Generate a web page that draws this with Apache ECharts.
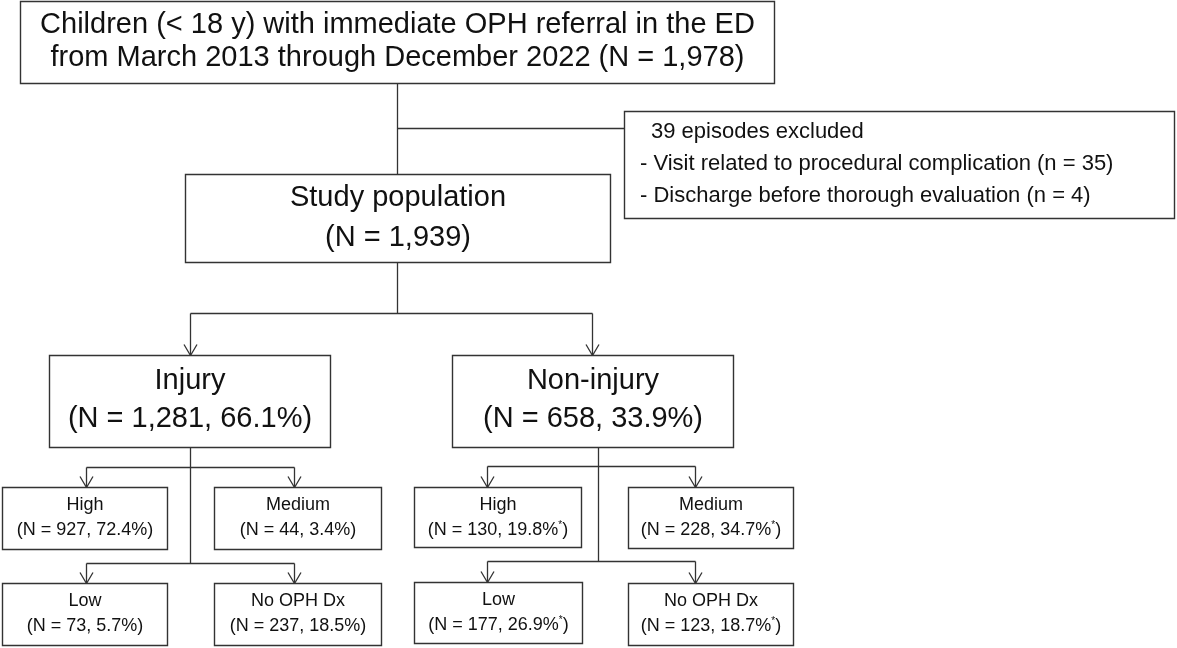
<!DOCTYPE html>
<html><head><meta charset="utf-8">
<script src="https://cdn.jsdelivr.net/npm/echarts@6/dist/echarts.min.js"></script>
<style>html,body{margin:0;padding:0;background:#fff}#c{width:1177px;height:648px}</style>
</head><body><div id="c"></div>
<script>
// ---------------- data ----------------
const sourceLines = ['Children (< 18 y) with immediate OPH referral in the ED', 'from March 2013 through December 2022'];
const totalN = 1978;
const excludedN = 39;
const exclusionReasons = ['Visit related to procedural complication', 'Discharge before thorough evaluation'];
const exclusionCounts = [35, 4];
const studyLabel = 'Study population';
const studyN = 1939;
const groupNames = ['Injury', 'Non-injury'];
const groupN = [1281, 658];
const groupPct = [66.1, 33.9];
const levelNames = ['High', 'Medium', 'Low', 'No OPH Dx'];
const injuryN = [927, 44, 73, 237];
const injuryPct = [72.4, 3.4, 5.7, 18.5];
const nonInjuryN = [130, 228, 177, 123];
const nonInjuryPct = [19.8, 34.7, 26.9, 18.7];
const groupStar = [false, true];

// ---------------- layout (positions / sizes) ----------------
const W = 1177, H = 648;
const L_TOP = [20, 1, 774, 83];
const L_EXCL = [624, 111, 1174, 218];
const L_STUDY = [185, 174, 610, 262];
const L_GROUPS = [[49, 355, 330, 447], [452, 355, 733, 447]];
const L_LEVELS = [
  [[2, 487, 167, 549], [214, 487, 381, 549], [2, 583, 167, 645], [214, 583, 381, 645]],
  [[414, 487, 581, 547], [628, 487, 793, 548], [414, 582, 582, 643], [628, 583, 793, 645]]
];
const CONNECTORS = [
  {pts: [[397, 83], [397, 174]]},
  {pts: [[397, 128], [624, 128]]},
  {pts: [[397, 262], [397, 313]]},
  {pts: [[190, 313], [592, 313]]},
  {pts: [[190, 313], [190, 355]], arrow: true},
  {pts: [[592, 313], [592, 355]], arrow: true},
  {pts: [[190, 447], [190, 563]]},
  {pts: [[86, 467], [294, 467]]},
  {pts: [[86, 467], [86, 487]], arrow: true},
  {pts: [[294, 467], [294, 487]], arrow: true},
  {pts: [[86, 563], [294, 563]]},
  {pts: [[86, 563], [86, 583]], arrow: true},
  {pts: [[294, 563], [294, 583]], arrow: true},
  {pts: [[598, 447], [598, 561]]},
  {pts: [[487, 466], [695, 466]]},
  {pts: [[487, 466], [487, 487]], arrow: true},
  {pts: [[695, 466], [695, 487]], arrow: true},
  {pts: [[487, 561], [695, 561]]},
  {pts: [[487, 561], [487, 582]], arrow: true},
  {pts: [[695, 561], [695, 583]], arrow: true}
];

const fmt = n => n.toLocaleString('en-US');
const FONT = 'Arial, "Liberation Sans", sans-serif';
const INK = '#111';
const EDGE = '#333';

// build nodes from data + layout
const nodes = [];
nodes.push({rect: L_TOP, lines: [
  {t: sourceLines[0], dy: 24, size: 29},
  {t: sourceLines[1] + ' (N = ' + fmt(totalN) + ')', dy: 57, size: 29}
]});
nodes.push({rect: L_EXCL, lines: [
  {t: excludedN + ' episodes excluded', dy: 21, size: 22, x: 651},
  {t: '- ' + exclusionReasons[0] + ' (n = ' + exclusionCounts[0] + ')', dy: 53, size: 22, x: 640},
  {t: '- ' + exclusionReasons[1] + ' (n = ' + exclusionCounts[1] + ')', dy: 85, size: 22, x: 640}
]});
nodes.push({rect: L_STUDY, lines: [
  {t: studyLabel, dy: 24, size: 29},
  {t: '(N = ' + fmt(studyN) + ')', dy: 64, size: 29}
]});
groupNames.forEach((g, gi) => {
  nodes.push({rect: L_GROUPS[gi], lines: [
    {t: g, dy: 26, size: 29},
    {t: '(N = ' + fmt(groupN[gi]) + ', ' + groupPct[gi].toFixed(1) + '%)', dy: 64, size: 29}
  ]});
  const ns = gi === 0 ? injuryN : nonInjuryN;
  const ps = gi === 0 ? injuryPct : nonInjuryPct;
  levelNames.forEach((lv, li) => {
    nodes.push({rect: L_LEVELS[gi][li], lines: [
      {t: lv, dy: 18, size: 18},
      {t: '(N = ' + fmt(ns[li]) + ', ' + ps[li].toFixed(1) + '%' + (groupStar[gi] ? '{s|*}' : '') + ')', dy: 43, size: 18, rich: groupStar[gi]}
    ]});
  });
});

const chart = echarts.init(document.getElementById('c'), null, {renderer: 'canvas'});
chart.setOption({
  backgroundColor: '#fff',
  animation: false,
  grid: {left: 0, right: 0, top: 0, bottom: 0},
  xAxis: {type: 'value', min: 0, max: W, show: false},
  yAxis: {type: 'value', min: 0, max: H, inverse: true, show: false},
  series: [
    {
      type: 'custom',
      coordinateSystem: 'cartesian2d',
      silent: true,
      data: CONNECTORS.map((c, i) => [c.pts[0][0], c.pts[0][1], i]),
      renderItem: function (params, api) {
        const c = CONNECTORS[params.dataIndex];
        const pts = c.pts.map(p => { const q = api.coord(p); return [Math.round(q[0]) + 0.5, Math.round(q[1]) + 0.5]; });
        const children = [{
          type: 'polyline', shape: {points: pts},
          style: {stroke: EDGE, lineWidth: 1.3, fill: null}
        }];
        if (c.arrow) {
          const e = pts[pts.length - 1];
          children.push({
            type: 'polyline', shape: {points: [[e[0] - 6.5, e[1] - 11], [e[0], e[1]], [e[0] + 6.5, e[1] - 11]]},
            style: {stroke: EDGE, lineWidth: 1.3, fill: null}
          });
        }
        return {type: 'group', children: children};
      }
    },
    {
      type: 'custom',
      coordinateSystem: 'cartesian2d',
      silent: true,
      z: 3,
      data: nodes.map((n, i) => [n.rect[0], n.rect[1], i]),
      renderItem: function (params, api) {
        const n = nodes[params.dataIndex];
        const p0 = api.coord([n.rect[0], n.rect[1]]);
        const p1 = api.coord([n.rect[2], n.rect[3]]);
        const x0 = Math.round(p0[0]) + 0.5, y0 = Math.round(p0[1]) + 0.5;
        const x1 = Math.round(p1[0]) + 0.5, y1 = Math.round(p1[1]) + 0.5;
        const children = [{
          type: 'rect', shape: {x: x0, y: y0, width: x1 - x0, height: y1 - y0},
          style: {fill: '#fff', stroke: EDGE, lineWidth: 1.4}
        }];
        n.lines.forEach(l => {
          const yy = api.coord([0, n.rect[1] + l.dy])[1];
          const xx = l.x !== undefined ? api.coord([l.x, 0])[0] : (x0 + x1) / 2;
          const st = {
            text: l.t, x: xx, y: yy,
            fill: INK, font: l.size + 'px ' + FONT,
            fontSize: l.size, fontFamily: FONT,
            align: l.x !== undefined ? 'left' : 'center',
            verticalAlign: 'middle'
          };
          if (l.rich) {
            st.rich = {s: {fontSize: 10, fontFamily: FONT, fill: INK, verticalAlign: 'top', lineHeight: 20}};
          }
          children.push({type: 'text', style: st});
        });
        return {type: 'group', children: children};
      }
    }
  ]
});
</script>
</body></html>
